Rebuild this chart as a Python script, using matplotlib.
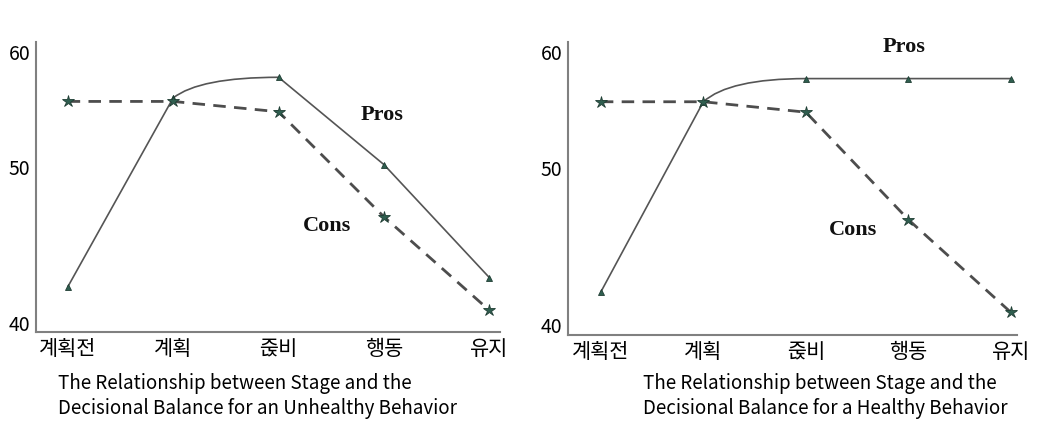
import numpy as np
import matplotlib
matplotlib.use("Agg")
import matplotlib.pyplot as plt
from matplotlib.path import Path
from matplotlib.patches import PathPatch

plt.rcParams['font.family'] = ['Noto Sans CJK KR', 'DejaVu Sans']

# 단계 (stages)
stages = ['계획전', '계획', '줁비', '행동', '유지']

# unhealthy behavior (left)
pros_unhealthy = [42.3, 56.0, 57.8, 50.2, 42.9]
cons_unhealthy = [55.7, 55.7, 54.8, 46.8, 40.8]

# healthy behavior (right)
pros_healthy = [42.1, 55.7, 57.7, 57.7, 57.7]
cons_healthy = [55.7, 55.7, 54.8, 46.7, 40.8]

captions = ['The Relationship between Stage and the\nDecisional Balance for an Unhealthy Behavior',
            'The Relationship between Stage and the\nDecisional Balance for a Healthy Behavior']

yticks = [40, 50, 60]


# the original axis is not evenly spaced: 40-50 is taller than 50-60
def fwd(v):
    v = np.asarray(v, dtype=float)
    return np.where(v < 50, (v - 40) * 15.6, 156 + (v - 50) * 11.5)


def inv(u):
    u = np.asarray(u, dtype=float)
    return np.where(u < 156, 40 + u / 15.6, 50 + (u - 156) / 11.5)


line_col = '#555555'
mark_col = '#2f5e4f'

fig = plt.figure(figsize=(10.5, 4.22), dpi=100)
ax1 = fig.add_axes([0.0343, 0.2133, 0.4419, 0.6872])
ax2 = fig.add_axes([0.541, 0.2062, 0.4276, 0.6943])


def draw(ax, pros, cons, xlim, pros_pos, cons_pos):
    x = np.arange(len(stages))
    ax.set_yscale('function', functions=(fwd, inv))

    # pros: straight, a curve from 계획 to 줁비, then straight
    verts = [(x[0], pros[0]), (x[1], pros[1]),
             (x[1] + 0.25, pros[2]), (x[2], pros[2]),
             (x[3], pros[3]), (x[4], pros[4])]
    codes = [Path.MOVETO, Path.LINETO, Path.CURVE3, Path.CURVE3,
             Path.LINETO, Path.LINETO]
    ax.add_patch(PathPatch(Path(verts, codes), fill=False,
                           edgecolor=line_col, lw=1.2))
    ax.plot(x, pros, linestyle='none', marker='^', ms=5,
            color=mark_col, mec='#1f3d33', mew=0.6)

    # cons dashed with stars
    ax.plot(x, cons, color='#4d4d4d', lw=2, dashes=(4.5, 3),
            marker='*', ms=9, mfc=mark_col, mec='#1f3d33', mew=0.6)

    ax.text(pros_pos[0], pros_pos[1], 'Pros', family='Liberation Serif',
            weight='bold', fontsize=16, ha='center', va='center', color='#111111')
    ax.text(cons_pos[0], cons_pos[1], 'Cons', family='Liberation Serif',
            weight='bold', fontsize=16, ha='center', va='center', color='#111111')

    ax.set_xlim(*xlim)
    ax.set_xticks(x)
    ax.set_xticklabels(stages, fontsize=15)
    ax.set_yticks(yticks)
    ax.set_yticklabels([str(t) for t in yticks], fontsize=14)
    ax.tick_params(length=0)
    ax.tick_params(axis='x', pad=4)
    ax.tick_params(axis='y', pad=4)
    for s in ['top', 'right']:
        ax.spines[s].set_visible(False)
    for s in ['left', 'bottom']:
        ax.spines[s].set_color('#808080')
        ax.spines[s].set_linewidth(1.5)


draw(ax1, pros_unhealthy, cons_unhealthy, (-0.3, 4.1), (2.98, 54.5), (2.46, 46.2))
ax1.set_ylim(39.42, 60.87)
draw(ax2, pros_healthy, cons_healthy, (-0.32, 4.06), (2.96, 60.4), (2.46, 46.05))
ax2.set_ylim(39.36, 60.86)

fig.text(58 / 1050, 1 - 396 / 422, captions[0], fontsize=13.5, ha='left',
         va='center', linespacing=1.2)
fig.text(643 / 1050, 1 - 396 / 422, captions[1], fontsize=13.5, ha='left',
         va='center', linespacing=1.2)

fig.savefig('out.png', dpi=100)
